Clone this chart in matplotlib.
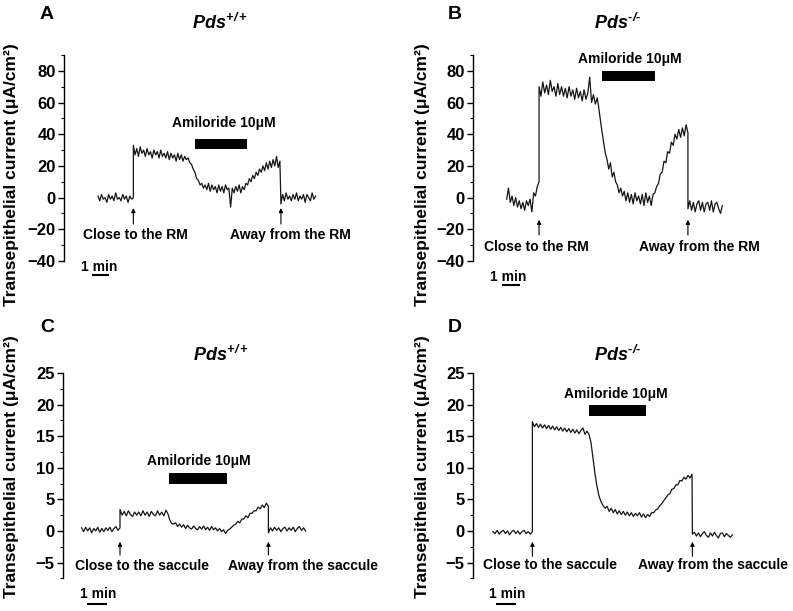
import numpy as np
import matplotlib
matplotlib.use("Agg")
import matplotlib.pyplot as plt
from matplotlib.ticker import MultipleLocator

plt.rcParams['font.family'] = ['Liberation Sans', 'DejaVu Sans']
plt.rcParams['mathtext.fontset'] = 'custom'
plt.rcParams['mathtext.it'] = 'Liberation Sans:bold:italic'
plt.rcParams['mathtext.rm'] = 'Liberation Sans:bold:italic'
plt.rcParams['mathtext.bf'] = 'Liberation Sans:bold:italic'

# ---------------- data (time in min, current in uA/cm2) ----------------
# Panel A : Pds+/+, close to Reissner's membrane
A_seg_t = [(2.0, 4.08), (4.08, 7.4), (7.5, 8.3), (8.4, 10.5), (10.6, 12.7), (12.76, 14.8)]
A_seg_v = [
    [1, -2, 2, -1, 0, -3, 2, -1, 1, -2, 3, -1, 0, -2, 2, -1, 1, -3, 1, -1, 0],
    [33, 27, 31, 26, 32, 28, 30, 26, 31, 27, 29, 25, 30, 27, 29, 25, 30, 26, 28, 25,
     29, 24, 28, 25, 27, 23, 28, 24, 27, 23, 26, 24, 25, 22],
    [21, 18, 16, 12, 11, 8, 9, 6, 8],
    [5, 9, 4, 8, 5, 7, 3, 8, 4, 7, 3, 8, 5, 6, -6, 6, 3, 7, 4, 8, 3, 7],
    [5, 9, 8, 12, 10, 14, 12, 16, 14, 18, 16, 20, 17, 22, 18, 23, 19, 24, 20, 26, 19, 23],
    [-4, 2, -2, 3, -1, 1, -2, 2, -1, 3, -2, 1, -1, 2, -3, 2, 0, -2, 3, -1, 1],
]
# Panel B : Pds-/-, close to Reissner's membrane
B_seg_t = [(1.87, 3.67), (3.67, 6.9), (6.97, 8.4), (8.5, 10.0), (10.1, 11.94), (11.94, 13.85)]
B_seg_v = [
    [-1, 6, -3, 1, -5, 0, -6, -2, -7, -3, -8, -2, -5, -1, -9, 3, 1, 7, 10],
    [70, 64, 73, 66, 71, 65, 74, 67, 70, 64, 72, 65, 70, 64, 69, 63, 70, 64, 68, 62,
     69, 63, 67, 61, 68, 62, 66, 76, 60, 65, 59, 63],
    [58, 50, 42, 35, 28, 24, 18, 22, 13, 16, 10, 8, 3, 6, 1, 4],
    [-2, 3, -3, 2, -4, 3, -2, 1, -4, 2, -5, 3, -3, 1, -5, 2],
    [3, 7, 9, 15, 16, 23, 22, 29, 28, 35, 33, 40, 37, 43, 38, 44, 39, 46, 41],
    [-7, -2, -8, -3, -9, -4, -2, -8, -3, -9, -4, -3, -8, -2, -9, -4, -3, -7, -10, -5],
]
# Panel C : Pds+/+, close to the saccule
C_seg_t = [(0.93, 2.85), (2.85, 5.25), (5.33, 8.33), (8.43, 10.27), (10.27, 12.13)]
C_seg_v = [
    [0.5, -0.1, 0.6, 0.0, 0.5, -0.3, 0.4, 0.0, 0.6, -0.2, 0.4, -0.1, 0.5, 0.1, 0.6, -0.1,
     0.4, 0.7, 0.1, 0.5],
    [3.4, 2.5, 3.1, 2.4, 3.2, 2.6, 2.3, 3.0, 2.5, 3.0, 2.4, 3.2, 2.5, 3.0, 2.3, 3.1,
     2.6, 2.4, 3.2, 2.5, 3.0, 2.4, 3.3, 2.7],
    [1.8, 1.2, 1.1, 1.3, 0.7, 1.1, 0.6, 1.0, 0.4, 0.9, 0.5, 0.3, 0.8, 0.4, 0.2, 0.7,
     0.3, 0.8, 0.2, 0.6, 0.1, 0.7, 0.2, 0.5, 0.0, 0.4, -0.1, 0.2, -0.4, 0.1, 0.3],
    [0.6, 0.9, 1.1, 1.5, 1.3, 1.9, 1.9, 2.4, 2.1, 2.8, 2.8, 3.2, 3.2, 3.8, 3.5, 4.1,
     3.7, 4.4, 3.9],
    [-0.3, 0.5, 0.0, 0.6, 0.1, 0.5, -0.1, 0.4, 0.6, 0.0, 0.5, 0.1, 0.6, -0.1, 0.4, 0.7,
     0.1, 0.5, 0.0],
]
# Panel D : Pds-/-, close to the saccule
D_seg_t = [(1.0, 2.97), (2.97, 5.8), (5.9, 10.95), (10.97, 12.97)]
D_seg_v = [
    [-0.1, -0.4, 0.1, -0.5, -0.1, 0.1, -0.4, 0.0, -0.6, -0.1, 0.1, -0.4, 0.0, -0.5,
     -0.1, 0.1, -0.4, -0.1, -0.5, -0.1],
    [17.3, 16.5, 17.0, 16.4, 16.9, 16.3, 16.8, 16.2, 16.7, 16.1, 16.6, 16.0, 16.5, 15.9,
     16.4, 15.8, 16.3, 15.7, 16.2, 15.6, 16.1, 15.5, 16.0, 15.4, 15.9, 16.3, 15.3, 15.8, 15.3],
    [14.0, 11.5, 9.0, 7.0, 5.5, 4.6, 4.0, 3.6, 3.9, 3.1, 3.6, 2.9, 3.4, 2.7, 3.2, 2.6,
     3.1, 2.5, 3.0, 2.4, 2.9, 2.3, 2.8, 2.4, 2.9, 2.2, 2.7, 2.1, 2.6, 2.3, 2.9, 2.9,
     3.3, 3.5, 4.0, 4.3, 4.8, 5.2, 5.7, 5.9, 6.6, 6.7, 7.3, 7.3, 8.0, 7.9, 8.5, 8.2,
     8.8, 8.4, 9.0],
    [-0.5, -0.2, -0.8, -0.3, -0.9, -0.4, -0.1, -0.7, -1.0, -0.3, -0.8, -0.2, -0.7, -1.1,
     -0.4, -0.3, -0.9, -0.4, -0.7, -1.0, -0.6],
]

titles = ["$Pds^{+/+}$", "$Pds^{\\text{-/-}}$", "$Pds^{+/+}$", "$Pds^{\\text{-/-}}$"]
letters = ["A", "B", "C", "D"]
amiloride = [(7.7, 10.75), (7.18, 10.1), (5.3, 8.18), (5.78, 8.67)]
close_t = [4.08, 3.67, 2.85, 2.97]
away_t = [12.76, 11.94, 10.27, 10.97]
close_lbl = ["Close to the RM", "Close to the RM", "Close to the saccule", "Close to the saccule"]
away_lbl = ["Away from the RM", "Away from the RM", "Away from the saccule", "Away from the saccule"]
ylabel = "Transepithelial current (\u03bcA/cm\u00b2)"

# ---------------- layout ----------------
W, H = 793, 611
fig = plt.figure(figsize=(W / 100, H / 100), dpi=100)

def add_ax(left, top, bottom, width=320):
    return fig.add_axes([left / W, 1 - bottom / H, width / W, (bottom - top) / H])

panels = [
    dict(ax=add_ax(64, 55, 261), seg_t=A_seg_t, seg_v=A_seg_v, ppm=17, ylim=(-40, 90), maj=20, mnr=10,
         bar_y=(30.5, 37.2), amil_y=47.4, amil_x=9.4, arr=(-6.6, -16.7), lbl_y=-23.6,
         close_x=4.18, away_x=13.3, sb=(1.63, -49), sb_txt=(2.07, -43.5),
         title_xy=(220, 23), letter_xy=(40, 6), ylab_xy=(12, 43)),
    dict(ax=add_ax(473, 55, 261), seg_t=B_seg_t, seg_v=B_seg_v, ppm=18, ylim=(-40, 90), maj=20, mnr=10,
         bar_y=(73.6, 80), amil_y=87.4, amil_x=8.7, arr=(-14, -23.6), lbl_y=-31,
         close_x=3.5, away_x=12.6, sb=(1.63, -55.4), sb_txt=(1.97, -50),
         title_xy=(618, 23), letter_xy=(448, 6), ylab_xy=(422, 43)),
    dict(ax=add_ax(63, 373, 578.4), seg_t=C_seg_t, seg_v=C_seg_v, ppm=20, ylim=(-7.5, 25), maj=5, mnr=2.5,
         bar_y=(7.4, 9.1), amil_y=11, amil_x=6.8, arr=(-1.7, -3.8), lbl_y=-5.5,
         close_x=3.93, away_x=12.0, sb=(1.22, -11.5), sb_txt=(1.77, -9.9),
         title_xy=(221, 355), letter_xy=(40, 319), ylab_xy=(12, 335)),
    dict(ax=add_ax(473, 373, 578.4), seg_t=D_seg_t, seg_v=D_seg_v, ppm=20, ylim=(-7.5, 25), maj=5, mnr=2.5,
         bar_y=(18.2, 19.9), amil_y=21.6, amil_x=7.13, arr=(-1.7, -4.0), lbl_y=-5.4,
         close_x=3.83, away_x=12.0, sb=(1.17, -11.5), sb_txt=(1.71, -9.9),
         title_xy=(618, 355), letter_xy=(448, 319), ylab_xy=(422, 335)),
]

for i, p in enumerate(panels):
    ax = p['ax']
    t = np.concatenate([np.linspace(a, b, len(v)) for (a, b), v in zip(p['seg_t'], p['seg_v'])])
    y = np.concatenate([np.asarray(v, float) for v in p['seg_v']])
    ax.plot(t, y, color='#151515', lw=0.9)
    ax.set_xlim(0, 320 / p['ppm'])
    ax.set_ylim(*p['ylim'])
    for s in ['top', 'right', 'bottom']:
        ax.spines[s].set_visible(False)
    ax.spines['left'].set_linewidth(1.0)
    ax.set_xticks([])
    ax.yaxis.set_major_locator(MultipleLocator(p['maj']))
    ax.yaxis.set_minor_locator(MultipleLocator(p['mnr']))
    ax.tick_params(axis='y', which='major', length=4, width=1, labelsize=12, pad=2)
    ax.tick_params(axis='y', which='minor', length=2.5, width=0.8)
    for lab in ax.get_yticklabels():
        lab.set_fontweight('bold')
    ax.set_facecolor('none')

    # amiloride bar
    x0, x1 = amiloride[i]
    ax.fill_between([x0, x1], p['bar_y'][0], p['bar_y'][1], color='black', lw=0)
    ax.text(p['amil_x'], p['amil_y'], "Amiloride 10\u03bcM", ha='center', va='center',
            fontsize=10, fontweight='bold')
    # arrows
    for tx in (close_t[i], away_t[i]):
        ax.annotate('', xy=(tx, p['arr'][0]), xytext=(tx, p['arr'][1]),
                    arrowprops=dict(arrowstyle='-|>', color='black', lw=0.8,
                                    mutation_scale=6, shrinkA=0, shrinkB=0),
                    annotation_clip=False)
    ax.text(p['close_x'], p['lbl_y'], close_lbl[i], ha='center', va='center',
            fontsize=10, fontweight='bold', clip_on=False)
    ax.text(p['away_x'], p['lbl_y'], away_lbl[i], ha='center', va='center',
            fontsize=10, fontweight='bold', clip_on=False)
    # scale bar
    sx, sy = p['sb']
    ax.plot([sx, sx + 1], [sy, sy], color='black', lw=1.5, clip_on=False, solid_capstyle='butt')
    ax.text(p['sb_txt'][0], p['sb_txt'][1], "1 min", ha='center', va='center',
            fontsize=10, fontweight='bold', clip_on=False)

    tx, ty = p['title_xy']
    fig.text(tx / W, 1 - ty / H, titles[i], ha='center', va='center', fontsize=13)
    lx, ly = p['letter_xy']
    fig.text(lx / W, 1 - ly / H, letters[i], ha='left', va='top', fontsize=14, fontweight='bold')
    yx, yy = p['ylab_xy']
    fig.text(yx / W, 1 - yy / H, ylabel, rotation=90, ha='center', va='top',
             fontsize=12.5, fontweight='bold')

fig.savefig("out.png", dpi=100, facecolor='white')
